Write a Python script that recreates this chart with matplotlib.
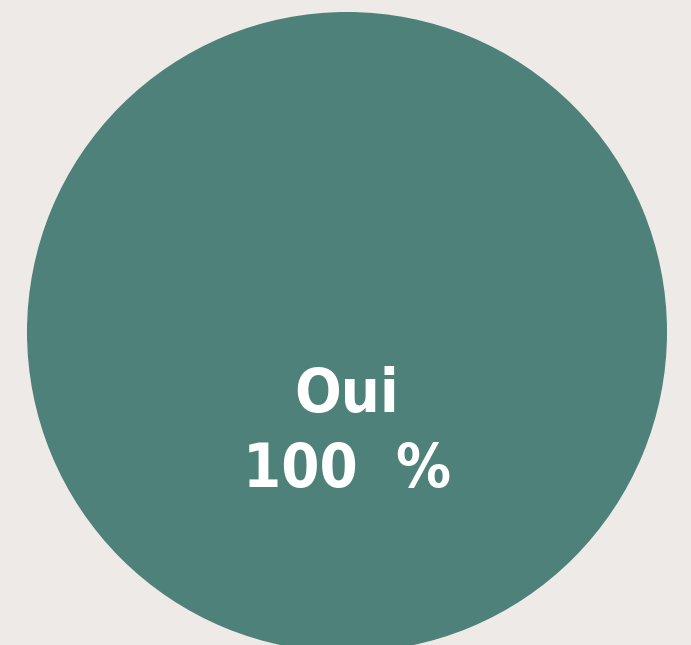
import matplotlib
matplotlib.use('Agg')
from matplotlib import pyplot as plt

labels = ['Oui']
values = [100]
colours = ['#4E8179']
bg = '#EEEAE7'

fig = plt.figure(figsize=(6.91, 6.45), dpi=100, facecolor=bg)
ax = fig.add_axes([0, 0, 1, 1])
ax.set_facecolor(bg)

wedges, _ = ax.pie(values, colors=colours, center=(347, 332), radius=320,
                   startangle=90, wedgeprops=dict(linewidth=0))
ax.set_xlim(0, 691)
ax.set_ylim(645, 0)
ax.set_aspect('equal')
ax.axis('off')

total = sum(values)
for lab, val in zip(labels, values):
    pct = 100 * val / total
    ax.text(347, 412, lab, ha='center', va='baseline', color='white',
            fontsize=44, fontweight='bold', family='DejaVu Sans',
            stretch='condensed')
    ax.text(347, 487, f'{pct:.0f}  %', ha='center', va='baseline', color='white',
            fontsize=44, fontweight='bold', family='DejaVu Sans',
            stretch='condensed')

fig.savefig('out.png', dpi=100, facecolor=bg)
